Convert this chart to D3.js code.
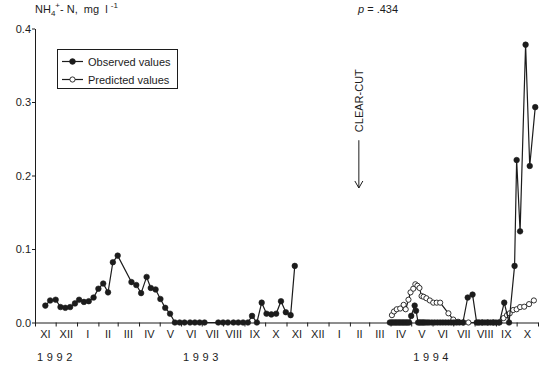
<!DOCTYPE html>
<html>
<head>
<meta charset="utf-8">
<script src="https://cdn.jsdelivr.net/npm/d3@7"></script>
<style>
  html, body { margin: 0; padding: 0; background: #fff; }
  svg { display: block; font-family: "Liberation Sans", Arial, sans-serif; }
</style>
</head>
<body>
<div id="chart"></div>
<script>
// observed NH4+-N, first sampling period (Nov 1992 - Nov 1993)
const obsDates93 = ['1992-11-16','1992-11-23','1992-12-01','1992-12-08','1992-12-15','1992-12-22','1992-12-29',
  '1993-01-04','1993-01-11','1993-01-18','1993-01-25','1993-02-01','1993-02-08','1993-02-15','1993-02-22',
  '1993-03-01','1993-03-21','1993-03-28','1993-04-04','1993-04-12','1993-04-18','1993-04-25','1993-05-02',
  '1993-05-09','1993-05-16','1993-05-23','1993-05-30','1993-06-06','1993-06-14','1993-06-21','1993-06-28',
  '1993-07-05','1993-07-25','1993-08-01','1993-08-08','1993-08-16','1993-08-23','1993-08-30','1993-09-06',
  '1993-09-12','1993-09-19','1993-09-26','1993-10-03','1993-10-10','1993-10-17','1993-10-24','1993-10-31',
  '1993-11-07','1993-11-13']
const obsValues93 = [0.023,0.030,0.031,0.021,0.020,0.021,0.026,
  0.031,0.028,0.029,0.034,0.046,0.053,0.041,0.082,
  0.091,0.055,0.051,0.040,0.062,0.047,0.045,0.032,
  0.020,0.012,0,0,0,0,0,0,
  0,0,0,0,0,0,0,0,
  0.009,0,0.027,0.012,0.011,0.012,0.029,0.014,
  0.010,0.077]

// observed, second period after the clear-cut (1994)
const obsDates94 = ['1994-03-31','1994-04-02','1994-04-04','1994-04-06','1994-04-08','1994-04-10','1994-04-12',
  '1994-04-14','1994-04-16','1994-04-18','1994-04-20','1994-04-22','1994-04-24','1994-04-26','1994-04-28',
  '1994-05-01','1994-05-06','1994-05-08','1994-05-11','1994-05-13','1994-05-15','1994-05-17','1994-05-19',
  '1994-05-21','1994-05-24','1994-05-27','1994-05-31','1994-06-04','1994-06-08','1994-06-12','1994-06-16',
  '1994-06-20','1994-06-24','1994-06-28','1994-07-02','1994-07-06','1994-07-10','1994-07-15','1994-07-22',
  '1994-07-29','1994-08-04','1994-08-08','1994-08-12','1994-08-16','1994-08-20','1994-08-24','1994-08-28',
  '1994-09-01','1994-09-06','1994-09-13','1994-09-20','1994-09-28','1994-10-01','1994-10-06','1994-10-14',
  '1994-10-20','1994-10-28']
const obsValues94 = [0,0,0,0,0,0,0,
  0,0,0,0,0,0,0,0,
  0.009,0.023,0.016,0,0,0,0,0,
  0,0,0,0,0,0,0,0,
  0,0,0,0,0,0,0,0.034,
  0.038,0,0,0,0,0,0,0,
  0,0,0.027,0,0.077,0.221,0.124,0.378,
  0.213,0.293]

// predicted values
const predDates = ['1994-04-03','1994-04-06','1994-04-10','1994-04-15','1994-04-20','1994-04-23','1994-04-27',
  '1994-04-30','1994-05-04','1994-05-07','1994-05-10','1994-05-13','1994-05-16','1994-05-19','1994-05-23',
  '1994-05-28','1994-06-02','1994-06-07','1994-06-12','1994-06-24','1994-07-01','1994-07-08','1994-07-16',
  '1994-07-23','1994-08-06','1994-08-12','1994-08-20','1994-08-28','1994-09-05','1994-09-12','1994-09-17',
  '1994-09-21','1994-09-26','1994-10-01','1994-10-06','1994-10-12','1994-10-19','1994-10-26']
const predValues = [0.010,0.015,0.018,0.019,0.024,0.018,0.031,
  0.041,0.046,0.052,0.050,0.047,0.036,0.035,0.033,
  0.030,0.027,0.027,0.027,0.0125,0.004,0.001,0,
  0,0,0,0,0,0,0.006,0.010,
  0.0125,0.017,0.018,0.021,0.0215,0.025,0.030]

const monthLabels = ['XI','XII','I','II','III','IV','V','VI','VII','VIII','IX','X',
  'XI','XII','I','II','III','IV','V','VI','VII','VIII','IX','X']
const yearLabels = ['1992','1993','1994']
const yearLabelDates = ['1992-11-01','1993-06-01','1994-05-01']
const yTicks = [0, 0.1, 0.2, 0.3, 0.4]
const clearCutDate = '1994-02-14'
const pValue = '.434'

const W = 543, H = 370
const ink = '#1c1c1c'
const parse = d3.timeParse('%Y-%m-%d')

const svg = d3.select('#chart').append('svg')
  .attr('width', W).attr('height', H)

const x = d3.scaleTime()
  .domain([parse('1992-11-01'), parse('1994-11-01')])
  .range([35, 538])
const y = d3.scaleLinear().domain([0, 0.4]).range([322.5, 28.5])

// axes
const monthStarts = d3.timeMonth.range(parse('1992-11-01'), parse('1994-11-02'))

svg.append('g')
  .attr('transform', `translate(0,${y(0)})`)
  .call(d3.axisBottom(x).tickValues(monthStarts).tickSize(4).tickSizeOuter(0).tickFormat(''))
  .call(g => g.selectAll('path, line').attr('stroke', ink))

svg.append('g')
  .attr('transform', `translate(${x.range()[0]},0)`)
  .call(d3.axisLeft(y).tickValues(yTicks).tickSize(3).tickSizeOuter(0).tickPadding(1).tickFormat(d3.format('.1f')))
  .call(g => g.selectAll('path, line').attr('stroke', ink))
  .call(g => g.selectAll('text').attr('fill', ink).attr('font-size', 11).attr('font-family', 'Liberation Sans, Arial, sans-serif'))

// month labels, centred in each month
svg.append('g').selectAll('text')
  .data(monthStarts.slice(0, monthLabels.length))
  .enter().append('text')
  .attr('x', d => (x(d) + x(d3.timeMonth.offset(d, 1))) / 2)
  .attr('y', 338)
  .attr('text-anchor', 'middle')
  .attr('font-size', 11)
  .attr('fill', ink)
  .text((d, i) => monthLabels[i])

svg.append('g').selectAll('text')
  .data(yearLabels)
  .enter().append('text')
  .attr('x', (d, i) => x(parse(yearLabelDates[i])) + 2)
  .attr('y', 361)
  .attr('font-size', 11)
  .attr('letter-spacing', '3.6px')
  .attr('fill', ink)
  .text(d => d)

// y title (non-breaking spaces keep the wide gaps)
const title = svg.append('text')
  .attr('x', 35).attr('y', 13)
  .attr('font-size', 11)
  .attr('fill', ink)
title.append('tspan').text('NH')
title.append('tspan').attr('font-size', 8).attr('dy', 3).text('4')
title.append('tspan').attr('font-size', 8).attr('dy', -8).text('+')
title.append('tspan').attr('dy', 5).text('- N,\u00a0\u00a0mg\u00a0\u00a0l\u00a0')
title.append('tspan').attr('font-size', 8).attr('dy', -5).text('-1')

const pText = svg.append('text')
  .attr('x', 358).attr('y', 13)
  .attr('font-size', 11)
  .attr('fill', ink)
pText.append('tspan').attr('font-style', 'italic').text('p')
pText.append('tspan').text(' = ' + pValue)

// clear-cut marker
const cx = x(parse(clearCutDate))
svg.append('text')
  .attr('transform', `translate(${cx + 4},${y(0.259)}) rotate(-90)`)
  .attr('font-size', 11)
  .attr('fill', ink)
  .text('CLEAR-CUT')

const arrowTop = y(0.248), arrowTip = y(0.183)
svg.append('line')
  .attr('x1', cx).attr('x2', cx)
  .attr('y1', arrowTop).attr('y2', arrowTip)
  .attr('stroke', ink).attr('stroke-width', 1)
svg.append('path')
  .attr('d', `M${cx - 4},${arrowTip - 7}L${cx},${arrowTip}L${cx + 4},${arrowTip - 7}`)
  .attr('fill', 'none').attr('stroke', ink).attr('stroke-width', 1)

// series
const toPoints = (dates, values) => dates.map((d, i) => ({ date: parse(d), value: values[i] }))
const obs93 = toPoints(obsDates93, obsValues93)
const obs94 = toPoints(obsDates94, obsValues94)
const pred = toPoints(predDates, predValues)

const line = d3.line().x(d => x(d.date)).y(d => y(d.value))
const plot = svg.append('g')

function drawSeries(data, filled) {
  plot.append('path')
    .datum(data)
    .attr('d', line)
    .attr('fill', 'none')
    .attr('stroke', ink)
    .attr('stroke-width', 1.2)
  plot.append('g').selectAll('circle')
    .data(data)
    .enter().append('circle')
    .attr('cx', d => x(d.date))
    .attr('cy', d => y(d.value))
    .attr('r', filled ? 2.8 : 2.6)
    .attr('fill', filled ? ink : '#fff')
    .attr('stroke', ink)
    .attr('stroke-width', filled ? 0.6 : 0.9)
}

drawSeries(pred, false)
drawSeries(obs93, true)
drawSeries(obs94, true)

// legend
const legend = svg.append('g')
legend.append('rect')
  .attr('x', 57.5).attr('y', 49.5).attr('width', 120).attr('height', 39)
  .attr('fill', '#fff').attr('stroke', ink).attr('stroke-width', 1)

const legendItems = [{ label: 'Observed values', filled: true }, { label: 'Predicted values', filled: false }]
legendItems.forEach((item, i) => {
  const ly = 61.5 + i * 18
  legend.append('line')
    .attr('x1', 62).attr('x2', 83).attr('y1', ly).attr('y2', ly)
    .attr('stroke', ink).attr('stroke-width', 1.2)
  legend.append('circle')
    .attr('cx', 72.5).attr('cy', ly).attr('r', item.filled ? 2.8 : 2.6)
    .attr('fill', item.filled ? ink : '#fff')
    .attr('stroke', ink).attr('stroke-width', 0.9)
  legend.append('text')
    .attr('x', 88).attr('y', ly + 4)
    .attr('font-size', 11)
    .attr('fill', ink)
    .text(item.label)
})
</script>
</body>
</html>
